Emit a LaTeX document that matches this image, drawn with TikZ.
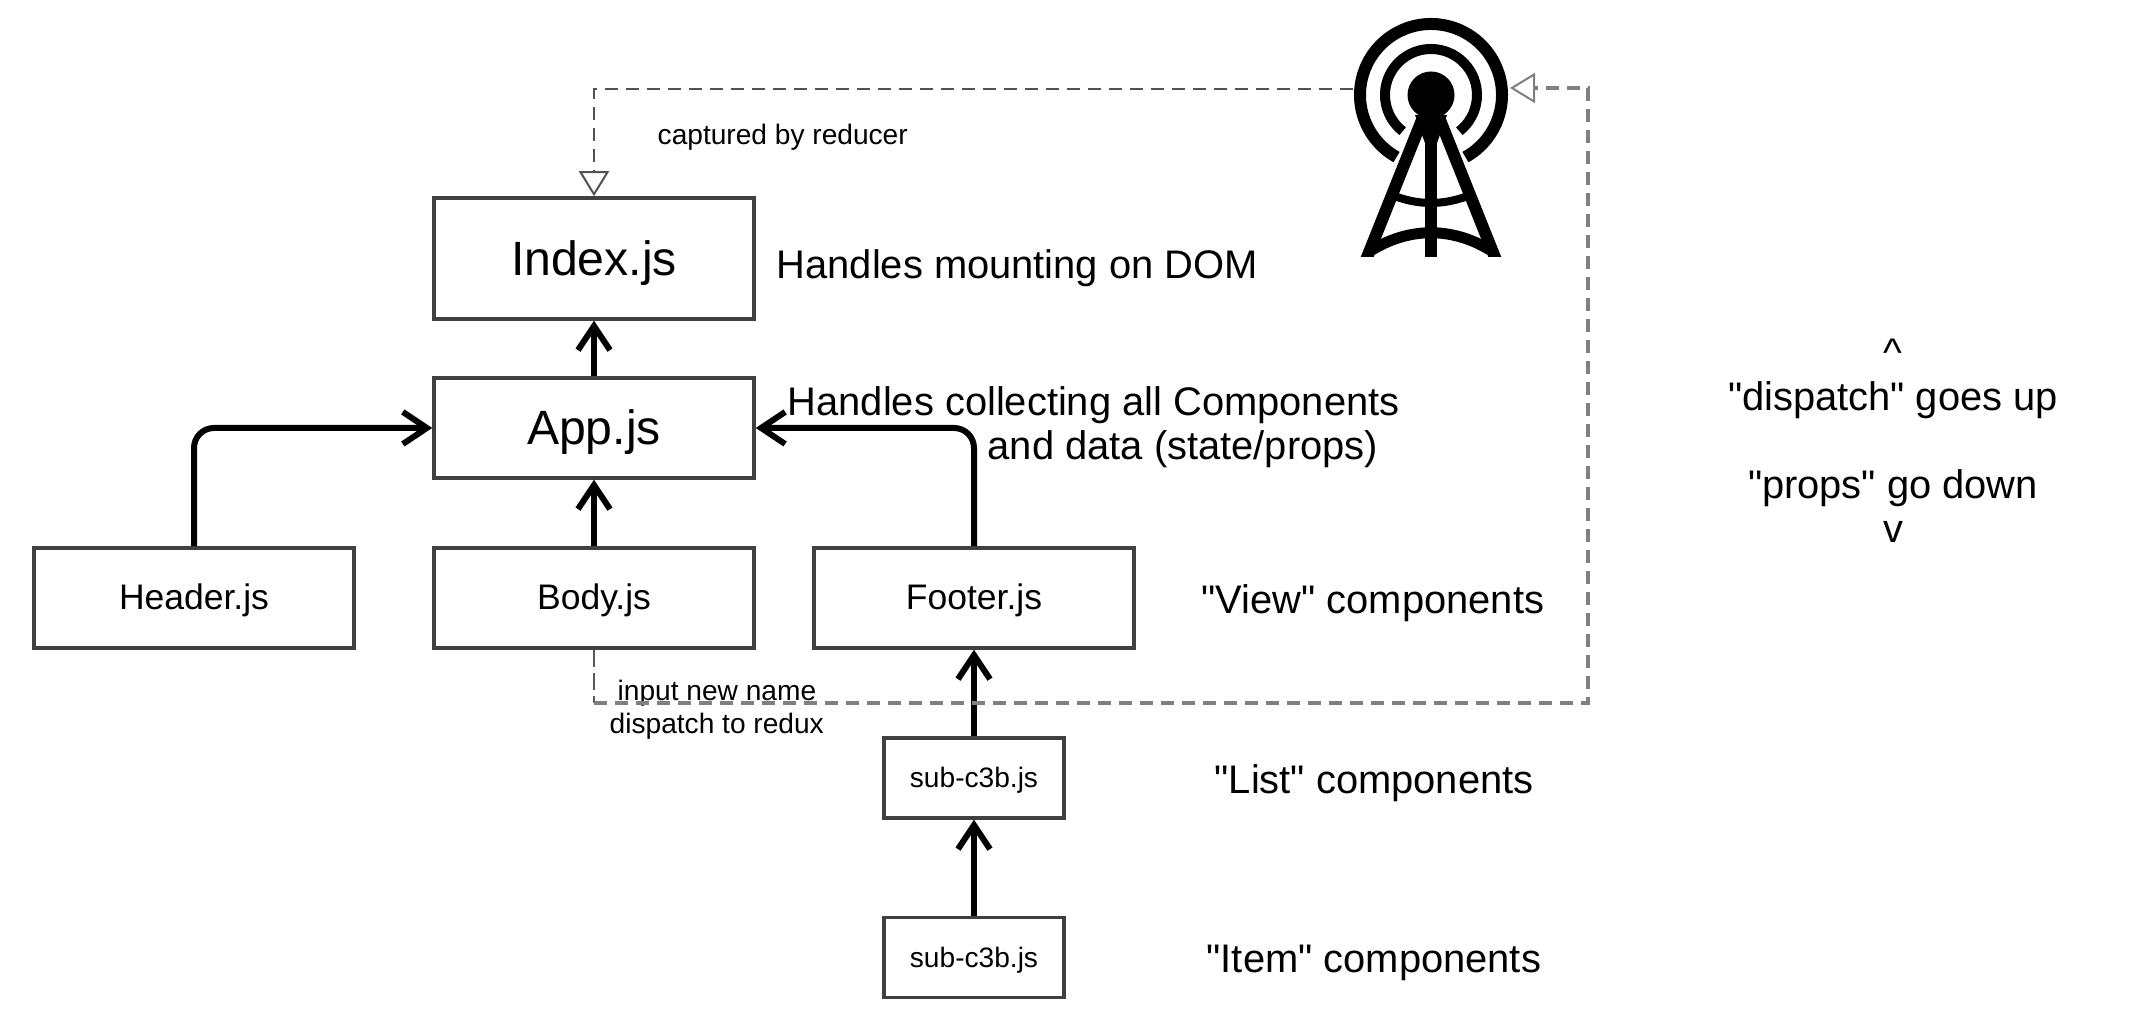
\documentclass[tikz,border=0pt]{standalone}
\usepackage{fontspec}
\setmainfont{Liberation Sans}
\newfontfamily\plainfont{Liberation Sans}
\usetikzlibrary{arrows.meta}
\tikzset{
	bigbox/.style={draw=black!75, line width=0.035cm, minimum width=3.2cm, text depth=0cm, font=\fontsize{13.7}{16}\selectfont},
	midbox/.style={draw=black!75, line width=0.035cm, minimum width=3.2cm, minimum height=1cm, text height=0.24cm, text depth=0cm, font=\fontsize{10.1}{12}\selectfont},
	subbox/.style={draw=black!75, line width=0.035cm, minimum width=1.8cm, minimum height=0.8cm, text height=0.2cm, text depth=0cm, font=\fontsize{8}{10}\selectfont},
	biglabel/.style={inner sep=0pt, anchor=base west, font=\plainfont\fontsize{11.35}{13}\selectfont},
	smalllabel/.style={inner sep=0pt, anchor=base west, font=\fontsize{8}{10}\selectfont},
	flow/.style={draw=black, line width=0.06cm, rounded corners=0.2cm, -{Straight Barb[length=0.24cm, width=0.32cm, line width=0.06cm]}},
	signal/.style={line width=0.035cm, dash pattern=on 0.13cm off 0.08cm, -{Triangle[open, fill=white, length=0.25cm, width=0.3cm, line width=0.02cm]}}
}
\begin{document}
\begin{tikzpicture}
	\useasboundingbox (0, 0) rectangle (21.52, 10.2);

	\node [bigbox, minimum height=1.21cm, text height=0.35cm] (Index) at (5.94, 7.615) {Index.js};
	\node [bigbox, minimum height=1cm, text height=0.33cm] (App) at (5.94, 5.92) {App.js};
	\node [midbox] (Header) at (1.94, 4.22) {Header.js};
	\node [midbox] (Body) at (5.94, 4.22) {Body.js};
	\node [midbox] (Footer) at (9.74, 4.22) {Footer.js};
	\node [subbox] (SubList) at (9.74, 2.42) {sub-c3b.js};
	\node [subbox] (SubItem) at (9.74, 0.625) {sub-c3b.js};

	\node [biglabel] (IndexNote) at (7.76, 7.415) {Handles mounting on DOM};
	\node [biglabel] (AppNote) at (7.87, 6.045) {Handles collecting all Components};
	\node [biglabel] (AppNoteTwo) at (9.87, 5.605) {and data (state/props)};
	\node [biglabel] (ViewNote) at (12.01, 4.06) {"View" components};
	\node [biglabel] (ListNote) at (12.14, 2.26) {"List" components};
	\node [biglabel] (ItemNote) at (12.06, 0.475) {"Item" components};
	\node [smalllabel] (Captured) at (6.57, 8.755) {captured by reducer};
	\node [smalllabel] (InputName) at (6.17, 3.19) {input new name};
	\node [smalllabel] (DispatchName) at (6.09, 2.865) {dispatch to redux};
	\node [align=center, font=\plainfont\fontsize{11.35}{12.5}\selectfont] (UpDown) at (18.93, 5.79) {\textasciicircum\\"dispatch" goes up\\[12.5pt]"props" go down\\v};

	\coordinate (TowerC) at (14.31, 9.25);
	\coordinate (TowerW) at (13.53, 9.31);
	\coordinate (TowerE) at (15.10, 9.32);
	\coordinate (TopLeft) at (5.94, 9.31);
	\coordinate (TopRight) at (15.88, 9.32);
	\coordinate (LowRight) at (15.88, 3.17);
	\coordinate (LowLeft) at (5.94, 3.17);

	\begin{scope}
		\clip (13.4, 7.63) rectangle (15.2, 10.2);
		\fill (TowerC) circle (0.235);
		\draw [line width=0.12cm] (TowerC) ++(-61:0.71) arc (-61:241:0.71);
		\draw [line width=0.1cm] (TowerC) ++(-52:0.46) arc (-52:232:0.46);
		\fill (14.15, 9.05) -- (14.47, 9.05) -- (14.31, 8.6) -- cycle;
		\draw [line width=0.12cm] (14.22, 9.0) -- (13.64, 7.55);
		\draw [line width=0.12cm] (14.40, 9.0) -- (14.98, 7.55);
		\draw [line width=0.12cm] (TowerC) -- (14.31, 7.55);
		\draw [line width=0.08cm] (13.97, 8.23) .. controls (14.2, 8.15) and (14.42, 8.15) .. (14.65, 8.23);
		\draw [line width=0.11cm] (13.72, 7.70) .. controls (14.1, 7.93) and (14.52, 7.93) .. (14.90, 7.70);
	\end{scope}

	\draw [flow] (App) -- (Index);
	\draw [flow] (Body) -- (App);
	\draw [flow] (Header.north) |- (App.west);
	\draw [flow] (Footer.north) |- (App.east);
	\draw [flow] (SubList) -- (Footer);
	\draw [flow] (SubItem) -- (SubList);

	\draw [black!65, line width=0.02cm, dash pattern=on 0.17cm off 0.06cm] (Body.south) -- (LowLeft);
	\draw [signal, black!50] (LowLeft) -- (LowRight) -- (TopRight) -- (TowerE);
	\draw [signal, black!68, line width=0.028cm] (TowerW) -- (TopLeft) -- (Index.north);
\end{tikzpicture}
\end{document}
